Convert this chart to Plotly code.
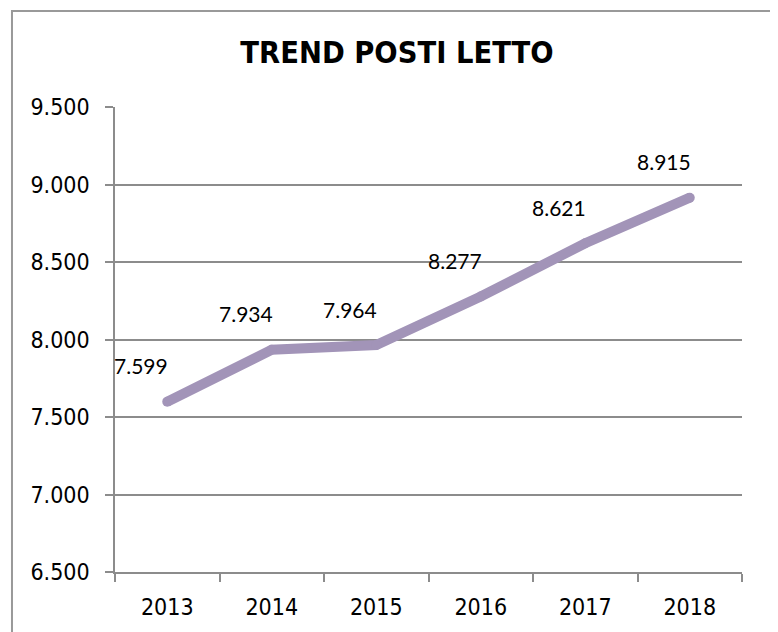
import plotly.graph_objects as go

years = ["2013", "2014", "2015", "2016", "2017", "2018"]
values = [7599, 7934, 7964, 8277, 8621, 8915]
value_labels = ["7.599", "7.934", "7.964", "8.277", "8.621", "8.915"]
y_ticks = [6500, 7000, 7500, 8000, 8500, 9000, 9500]
y_tick_labels = ["6.500", "7.000", "7.500", "8.000", "8.500", "9.000", "9.500"]

NARROW = "DejaVu Sans Condensed, Liberation Sans Narrow, Arial Narrow, sans-serif"
GRID = "#8c8c8c"
LINE = "#A294B8"

fig = go.Figure()
fig.add_trace(go.Scatter(
    x=years, y=values, mode="lines+markers",
    line=dict(color=LINE, width=10),
    marker=dict(color=LINE, size=10, line=dict(width=0)),
    hoverinfo="skip",
))

for i, (y, t) in enumerate(zip(values, value_labels)):
    fig.add_annotation(x=i, y=y, text=t, showarrow=False,
                       xshift=-26, yshift=36,
                       font=dict(family="Lato, Open Sans, sans-serif", size=21, color="#000"))

fig.add_shape(type="rect", xref="paper", yref="paper",
              x0=-0.1643, x1=1.0463, y0=-0.2, y1=1.2065,
              line=dict(color="#999999", width=2), fillcolor="rgba(0,0,0,0)", layer="below")

fig.update_layout(
    width=778, height=632,
    margin=dict(l=107, r=44, t=99, b=68),
    paper_bgcolor="white", plot_bgcolor="white",
    showlegend=False,
    title=dict(text="<b>TREND POSTI LETTO</b>", x=0.5, xanchor="center", y=0.93, yanchor="middle",
               font=dict(family=NARROW, size=30.5, color="#000")),
    xaxis=dict(type="category", range=[-0.5, 5.5], tickson="boundaries",
               ticks="outside", ticklen=8, tickcolor=GRID, tickwidth=1.5,
               ticklabelstandoff=14,
               showline=True, linecolor=GRID, linewidth=1.5,
               showgrid=False, zeroline=False,
               tickfont=dict(family=NARROW, size=23, color="#000")),
    yaxis=dict(range=[6500, 9500], tickvals=y_ticks, ticktext=y_tick_labels,
               ticks="outside", ticklen=8, tickcolor=GRID, tickwidth=1.5,
               ticklabelstandoff=11,
               showline=True, linecolor=GRID, linewidth=1.5,
               showgrid=True, gridcolor=GRID, gridwidth=1.5, zeroline=False,
               tickfont=dict(family=NARROW, size=23, color="#000")),
)

fig.write_html("out.html")
